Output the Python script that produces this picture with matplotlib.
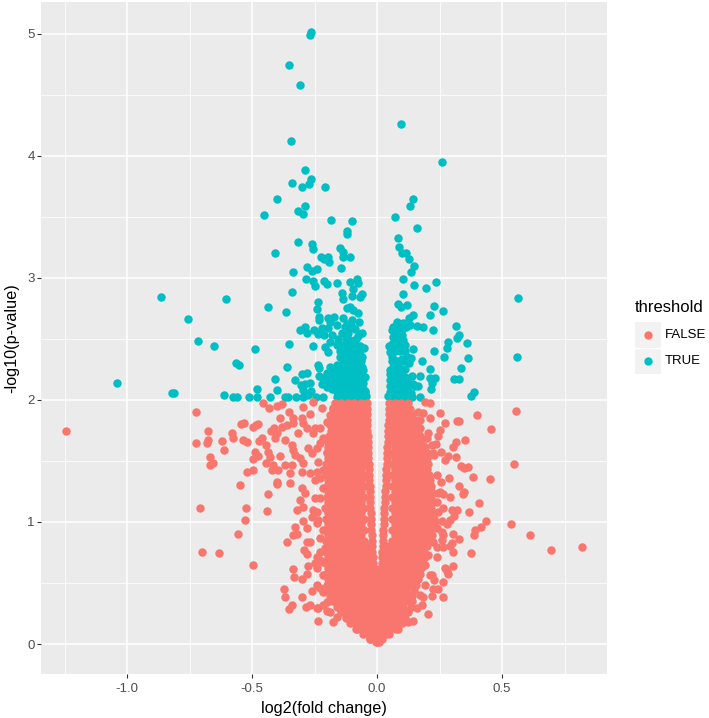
import matplotlib
matplotlib.use("Agg")
import matplotlib.pyplot as plt
from matplotlib.lines import Line2D
from matplotlib.patches import Rectangle

plt.rcParams['font.family'] = ['Liberation Sans', 'DejaVu Sans']
plt.rcParams['axes.unicode_minus'] = False

x_ticks = [-1.0, -0.5, 0.0, 0.5]
x_tick_labels = ['-1.0', '-0.5', '0.0', '0.5']
x_minor = [-1.25, -0.75, -0.25, 0.25, 0.75]
y_ticks = [0, 1, 2, 3, 4, 5]
y_minor = [0.5, 1.5, 2.5, 3.5, 4.5]

# significant points (threshold TRUE), left then right of zero
true_x = [
    -.264, -.268, -.353, -.308, -.343, -.288, -.264, -.272, -.340, -.301, -.207, -.400,
    -.288, -.315, -.296, -.452, -.184, -.101, -.121, -.121, -.317, -.261, -.255, -.407,
    -.148, -.135, -.135, -.108, -.224, -.211, -.195, -.192, -.281, -.261, -.239, -.143,
    -.337, -.284, -.255, -.249, -.212, -.201, -.159, -.108, -.081, -.075, -.340, -.095,
    -.141, -.101, -.061, -.068, -.605, -.135, -.236, -.437, -.241, -.121, -.108, -.095,
    -.075, -.363, -.756, -.231, -.233, -.195, -.172, -.188, -.135, -.101, -.072, -.161,
    -.128, -.308, -.288, -.281, -.251, -.221, -.195, -.235, -.211, -.181, -.115, -.061,
    -.715, -.651, -.489, -.352, -.257, -.208, -.188, -.195, -.161, -.135, -.108, -.115,
    -.068, -.051, -.135, -.108, -.081, -.061, -.565, -.552, -.361, -.236, -.233, -.121,
    -.095, -.188, -.161, -.075, -.300, -.279, -.231, -.201, -.175, -.148, -.115, -.081,
    -.408, -.329, -.215, -.188, -.161, -.135, -.108, -.081, -.061, -.267, -.305, -.288,
    -.221, -.201, -.148, -.121, -.095, -.068, -.479, -.400, -.295, -.265, -.148, -.121,
    -.095, -.068, -.047, -.611, -.575, -.559, -.512, -.480, -.427, -.367, -.355, -.325,
    -.295, -.275, -.244, -.217, -.161, -.135, -.108, -.081, -.055, -1.041, -.865, -.812,
    -.819, -.100, -.120, -.090, -.085, -.075, -.140, -.155, -.125, -.200, -.190,
    .097, .258, .142, .132, .071, .159, .083, .088, .101, .115, .128, .149, .137, .103,
    .149, .195, .235, .105, .564, .085, .095, .120, .229, .265, .213, .145, .129, .079,
    .105, .132, .159, .183, .072, .059, .085, .105, .223, .315, .328, .320, .361, .285,
    .281, .229, .268, .364, .559, .065, .099, .072, .105, .047, .085, .112, .105, .143,
    .052, .059, .099, .119, .135, .127, .179, .085, .065, .052, .079, .213, .336, .308,
    .328, .059, .085, .112, .139, .172, .212, .232, .219, .145, .163, .065, .092, .065,
    .092, .217, .135, .052, .079, .105, .139, .172, .389, .375,
]
true_y = [
    5.015, 4.990, 4.742, 4.575, 4.117, 3.882, 3.808, 3.767, 3.775, 3.743, 3.743, 3.644,
    3.584, 3.549, 3.521, 3.513, 3.472, 3.461, 3.385, 3.358, 3.289, 3.273, 3.232, 3.199,
    3.240, 3.213, 3.172, 3.172, 3.172, 3.150, 3.172, 3.125, 3.085, 3.057, 3.071, 3.076,
    3.049, 2.986, 2.973, 2.934, 2.973, 2.948, 2.959, 2.962, 2.986, 2.959, 2.883, 2.904,
    2.872, 2.850, 2.866, 2.844, 2.828, 2.822, 2.798, 2.760, 2.740, 2.754, 2.762, 2.735,
    2.713, 2.716, 2.661, 2.680, 2.653, 2.667, 2.675, 2.640, 2.667, 2.653, 2.640, 2.612,
    2.599, 2.571, 2.599, 2.549, 2.571, 2.585, 2.590, 2.539, 2.530, 2.530, 2.544, 2.549,
    2.481, 2.438, 2.418, 2.459, 2.438, 2.435, 2.476, 2.394, 2.448, 2.448, 2.489, 2.435,
    2.443, 2.427, 2.367, 2.380, 2.380, 2.347, 2.301, 2.287, 2.271, 2.285, 2.257, 2.298,
    2.312, 2.271, 2.285, 2.257, 2.211, 2.219, 2.194, 2.216, 2.216, 2.230, 2.230, 2.216,
    2.173, 2.164, 2.175, 2.162, 2.162, 2.162, 2.162, 2.162, 2.148, 2.137, 2.121, 2.129,
    2.126, 2.107, 2.107, 2.107, 2.107, 2.102, 2.085, 2.083, 2.080, 2.072, 2.058, 2.053,
    2.053, 2.053, 2.072, 2.042, 2.020, 2.025, 2.020, 2.025, 2.020, 2.020, 2.020, 2.020,
    2.025, 2.039, 2.020, 2.020, 2.020, 2.020, 2.012, 2.020, 2.025, 2.140, 2.839, 2.058,
    2.058, 2.600, 2.620, 2.580, 2.500, 2.520, 2.550, 2.500, 2.500, 2.170, 2.120,
    4.260, 3.945, 3.645, 3.590, 3.494, 3.404, 3.327, 3.254, 3.205, 3.199, 3.156, 3.095,
    3.046, 2.992, 2.937, 2.915, 2.967, 2.863, 2.836, 2.787, 2.760, 2.779, 2.771, 2.724,
    2.694, 2.694, 2.667, 2.640, 2.626, 2.612, 2.604, 2.596, 2.599, 2.571, 2.571, 2.585,
    2.571, 2.601, 2.530, 2.508, 2.465, 2.473, 2.427, 2.399, 2.350, 2.345, 2.350, 2.517,
    2.530, 2.489, 2.489, 2.443, 2.435, 2.448, 2.421, 2.418, 2.394, 2.353, 2.331, 2.353,
    2.345, 2.298, 2.315, 2.285, 2.271, 2.244, 2.244, 2.255, 2.260, 2.170, 2.167, 2.189,
    2.203, 2.189, 2.194, 2.194, 2.175, 2.178, 2.134, 2.129, 2.115, 2.134, 2.140, 2.080,
    2.085, 2.088, 2.058, 2.025, 2.031, 2.025, 2.025, 2.020, 2.066, 2.033,
]

# packed TRUE points just above the cut-off
dense_true_y = [2.60, 2.55, 2.50, 2.46, 2.44, 2.40, 2.35, 2.32, 2.27, 2.25, 2.24, 2.21, 2.19, 2.16, 2.14, 2.11, 2.09, 2.06, 2.03]
dense_true_x = [
    [.065, .09, .115],
    [.07, .095],
    [.08, .09],
    [.06, .09],
    [-.10, -.085, -.125],
    [-.125, -.09, -.07, -.15, .07, .09, .11],
    [-.15, -.12, -.095, -.075],
    [-.135, -.11, -.085, -.065, .06, .08, .105],
    [-.14, -.12, -.10, -.08, -.06],
    [.065, .095, .11],
    [-.17, -.13, -.105, -.09, -.07, -.055],
    [.05, .07, .1],
    [-.17, -.14, -.12, -.10, -.08, -.06, -.05],
    [.05, .075, .095, .12],
    [-.175, -.15, -.125, -.10, -.075, -.055],
    [.05, .08, .105, .125, .15],
    [-.18, -.17, -.135, -.11, -.085, -.055],
    [-.16, -.135, -.11, -.085, -.06, -.05, .05, .075, .1, .12],
    [-.15, -.125, -.10, -.07, -.06, -.045, .045, .065, .09, .12],
]

# scattered non-significant points outside the dense body
false_x = [
    -1.244, -.723, -.677, -.677, -.681, -.723, -.619, -.612, -.669, -.655, -.668, -.579,
    -.577, -.544, -.532, -.497, -.475, -.485, -.537, -.519, -.547, -.519, -.497, -.708,
    -.523, -.528, -.557, -.700, -.632, -.497, -.436, -.439, -.321, -.359, -.329, -.335,
    -.321, -.335, -.332, -.299, -.279, -.372, -.367, -.299, -.259, -.339, -.351, -.285,
    -.268, -.235, -.176, -.235, -.201,
    -.455, -.431, -.399, -.381, -.352, -.389, -.335, -.295, -.255, -.221, -.268, -.301,
    -.295, -.335, -.361, -.381, -.412, -.424, -.401, -.368, -.408, -.461, -.471, -.444,
    -.435, -.488, -.475, -.497, -.388, -.428, -.444, -.415, -.395, -.421, -.368, -.341,
    -.348, -.335, -.328, -.308, -.295, -.341, -.315, -.281, -.248, -.255, -.275, -.261,
    -.228, -.348, -.401, -.401, -.301, -.268, -.241, -.248, -.301, -.288, -.248, -.308,
    -.295, -.255, -.241, -.261, -.295, -.281, -.241, -.268, -.281, -.291, -.281, -.241,
    -.228, -.275, -.248, -.228, -.215, -.241,
    -.228, -.215, -.228, -.208, -.235, -.215, -.228, -.208, -.228, -.215, -.241, -.215,
    -.241, -.215, -.201, -.188, -.161, -.241, -.215, -.228, -.201, -.188, -.175, -.201,
    -.235, -.215,
    .211, .192, .251, .185, .212, .172, .273, .321, .329, .399, .555, .455, .252, .205,
    .243, .352, .315, .303, .235, .219, .257, .283, .272, .316, .228, .335, .348, .363,
    .549, .383, .452, .289, .255, .329, .348, .345, .263, .245, .293, .408, .367, .321,
    .299, .263, .308, .292, .281, .259, .435, .416, .393, .389, .305, .329, .299, .292,
    .304, .263, .265, .259, .375, .535, .613, .695, .819, .303, .272, .279, .285, .239,
    .265, .245, .225, .221, .265, .228, .219, .185, .179, .205, .145,
    .225, .239, .252, .239, .245, .239, .259, .225, .239, .205, .192, .212, .192, .172,
    .159, .125, .232, .219, .199, .172, .165, .145,
]
false_y = [
    1.744, 1.903, 1.744, 1.671, 1.644, 1.644, 1.665, 1.589, 1.534, 1.480, 1.463, 1.725,
    1.685, 1.804, 1.810, 1.780, 1.802, 1.790, 1.671, 1.657, 1.305, 1.411, 1.428, 1.111,
    1.111, 1.013, .901, .751, .745, .644, 1.231, 1.092, 1.100, .835, .958, .890,
    .898, .614, .546, .530, .576, .448, .387, .385, .432, .322, .289, .303,
    .319, .191, .180, .292, .270,
    1.971, 1.935, 1.949, 1.963, 1.897, 1.853, 1.853, 1.943, 1.979, 1.930, 1.881, 1.853,
    1.807, 1.807, 1.793, 1.774, 1.771, 1.744, 1.725, 1.670, 1.684, 1.684, 1.662, 1.629,
    1.575, 1.569, 1.542, 1.515, 1.542, 1.534, 1.479, 1.466, 1.425, 1.425, 1.466, 1.466,
    1.397, 1.589, 1.548, 1.520, 1.479, 1.629, 1.725, 1.766, 1.766, 1.725, 1.602, 1.561,
    1.643, 1.321, 1.329, 1.307, 1.406, 1.397, 1.411, 1.343, 1.275, 1.234, 1.193, 1.179,
    1.124, 1.097, 1.083, 1.043, 1.007, .947, .988, .838, .838, .770, .734, .715,
    .688, .641, .660, .456, .319, .292,
    1.356, 1.275, 1.193, 1.111, 1.015, .933, .865, .783, .756, .674, .619, .565,
    .483, .428, .346, .264, .223, 1.602, 1.684, 1.766, 1.821, 1.875, 1.930, 1.575,
    1.493, 1.425,
    1.971, 1.984, 1.894, 1.889, 1.853, 1.834, 1.812, 1.826, 1.826, 1.872, 1.908, 1.763, 1.752, 1.730,
    1.703, 1.670, 1.654, 1.610, 1.638, 1.629, 1.569, 1.539, 1.507, 1.528, 1.548, 1.457, 1.438, 1.447,
    1.471, 1.365, 1.354, 1.356, 1.324, 1.296, 1.247, 1.228, 1.225, 1.234, 1.201, 1.157, 1.083, 1.094,
    1.097, 1.116, 1.051, 1.015, .980, 1.007, 1.007, .961, .931, .892, .898, .857, .824, .805,
    .756, .791, .892, .851, .748, .980, .890, .772, .791, .641, .625, .598, .570, .712,
    .505, .450, .447, .393, .387, .524, .565, .387, .319, .245, .188,
    1.561, 1.384, 1.247, 1.165, 1.083, .947, .920, .838, .797, .729, .647, .565, .483, .401,
    .292, .183, 1.002, .892, 1.684, 1.766, 1.902, 1.834,
]

# dense body of the volcano, one list of fold changes per -log10(p) level
body_y = [
    1.97, 1.925, 1.88, 1.835, 1.79, 1.745, 1.70, 1.655, 1.61, 1.565, 1.52, 1.475, 1.43, 1.385, 1.34,
    1.295, 1.25, 1.205, 1.16, 1.115, 1.07, 1.025, .98, .935, .89, .845, .80, .755, .71, .665,
    .62, .575, .53, .485, .44, .395, .35, .305, .26, .215, .17, .125, .08, .04, .015,
]
body_x = [
    [-.042, -.066, -.092, -.118, -.144, -.168, .048, .071, .097, .122],
    [-.042, -.053, -.079, -.105, -.131, -.157, -.176, .047, .058, .084, .11, .131],
    [-.041, -.066, -.092, -.118, -.144, -.17, .047, .071, .097, .123, .14],
    [-.04, -.053, -.079, -.105, -.131, -.157, -.183, .046, .058, .084, .11, .136, .15],
    [-.04, -.066, -.092, -.118, -.144, -.17, -.19, .045, .071, .097, .123, .149, .158],
    [-.039, -.053, -.079, -.105, -.131, -.157, -.183, .044, .058, .084, .11, .136, .162],
    [-.038, -.066, -.092, -.118, -.144, -.17, -.192, .043, .071, .097, .123, .149, .172],
    [-.037, -.053, -.079, -.105, -.131, -.157, -.183, -.198, .042, .058, .084, .11, .136, .162, .18],
    [-.036, -.066, -.092, -.118, -.144, -.17, -.196, .041, .071, .097, .123, .149, .175, .19],
    [-.035, -.053, -.079, -.105, -.131, -.157, -.183, -.2, .04, .058, .084, .11, .136, .162, .188, .198],
    [-.035, -.066, -.092, -.118, -.144, -.17, -.196, .039, .071, .097, .123, .149, .175, .201],
    [-.034, -.053, -.079, -.105, -.131, -.157, -.183, -.205, .038, .058, .084, .11, .136, .162, .188, .205],
    [-.033, -.066, -.092, -.118, -.144, -.17, -.196, .037, .071, .097, .123, .149, .175, .201],
    [-.032, -.053, -.079, -.105, -.131, -.157, -.183, -.205, .036, .058, .084, .11, .136, .162, .188, .208],
    [-.031, -.066, -.092, -.118, -.144, -.17, -.196, .035, .071, .097, .123, .149, .175, .201, .212],
    [-.03, -.053, -.079, -.105, -.131, -.157, -.183, -.202, .034, .058, .084, .11, .136, .162, .188, .214],
    [-.029, -.066, -.092, -.118, -.144, -.17, -.196, .032, .071, .097, .123, .149, .175, .201, .215],
    [-.028, -.053, -.079, -.105, -.131, -.157, -.183, -.2, .03, .058, .084, .11, .136, .162, .188, .214],
    [-.028, -.066, -.092, -.118, -.144, -.17, -.196, .03, .071, .097, .123, .149, .175, .201, .218],
    [-.027, -.053, -.079, -.105, -.131, -.157, -.183, -.204, .029, .058, .084, .11, .136, .162, .188, .214],
    [-.026, -.066, -.092, -.118, -.144, -.17, -.196, .028, .071, .097, .123, .149, .175, .201, .222],
    [-.025, -.053, -.079, -.105, -.131, -.157, -.183, -.205, .027, .058, .084, .11, .136, .162, .188, .214, .226],
    [-.024, -.066, -.092, -.118, -.144, -.17, -.196, .026, .071, .097, .123, .149, .175, .201, .224],
    [-.023, -.053, -.079, -.105, -.131, -.157, -.183, -.207, .025, .058, .084, .11, .136, .162, .188, .214],
    [-.022, -.066, -.092, -.118, -.144, -.17, -.196, .024, .071, .097, .123, .149, .175, .201],
    [-.021, -.053, -.079, -.105, -.131, -.157, -.183, -.206, .023, .058, .084, .11, .136, .162, .188, .208],
    [-.02, -.046, -.066, -.092, -.118, -.144, -.17, -.196, .022, .048, .071, .097, .123, .149, .175, .201],
    [-.019, -.04, -.053, -.079, -.105, -.131, -.157, -.183, -.206, .021, .04, .058, .084, .11, .136, .162, .188],
    [-.018, -.04, -.066, -.092, -.118, -.144, -.17, -.196, .02, .045, .071, .097, .123, .149, .175, .19],
    [-.016, -.04, -.053, -.079, -.105, -.131, -.157, -.183, -.205, .018, .04, .058, .084, .11, .136, .162, .182],
    [-.014, -.04, -.066, -.092, -.118, -.144, -.17, -.196, .016, .045, .071, .097, .123, .149, .175],
    [.0, -.027, -.053, -.079, -.105, -.131, -.157, -.183, -.204, .026, .052, .078, .104, .13, .156, .17],
    [-.014, -.04, -.066, -.092, -.118, -.144, -.17, -.196, .013, .039, .065, .091, .117, .143, .162],
    [.0, -.027, -.053, -.079, -.105, -.131, -.157, -.183, -.2, .026, .052, .078, .104, .13, .154],
    [-.014, -.04, -.066, -.092, -.118, -.144, -.17, -.194, .013, .039, .065, .091, .117, .146],
    [.0, -.027, -.053, -.079, -.105, -.131, -.157, -.183, -.19, .026, .052, .078, .104, .13, .14],
    [-.014, -.04, -.066, -.092, -.118, -.144, -.17, -.182, .013, .039, .065, .091, .117, .14],
    [.0, -.027, -.053, -.079, -.105, -.131, -.157, -.16, .026, .052, .078, .104, .135],
    [-.014, -.04, -.066, -.092, -.118, -.144, .013, .039, .065, .091, .112, .125],
    [.0, -.027, -.053, -.079, -.105, -.125, .026, .052, .078, .1, .11],
    [-.014, -.04, -.066, -.092, -.108, .013, .039, .065, .085, .1],
    [.0, -.027, -.053, -.079, -.085, .026, .052, .074, .085],
    [-.014, -.04, -.058, .013, .035, .048],
    [.0, -.027, -.03, .02],
    [-.006, .0, .008],
]
threshold_levels = ['FALSE', 'TRUE']
threshold_colors = ['#F8766D', '#00BFC4']

for row_y, row_x in zip(body_y, body_x):
    false_x = false_x + row_x
    false_y = false_y + [row_y] * len(row_x)
for row_y, row_x in zip(dense_true_y, dense_true_x):
    true_x = true_x + row_x
    true_y = true_y + [row_y] * len(row_x)

W, H = 709, 718
fig = plt.figure(figsize=(W / 100, H / 100), dpi=100)
ax = fig.add_axes([41 / W, 1 - 674 / H, (607 - 41) / W, (674 - 2) / H])
ax.set_facecolor('#EBEBEB')
for s in ax.spines.values():
    s.set_visible(False)

ax.set_xlim(-1.344, 0.92)
ax.set_ylim(-0.2457, 5.258)

ax.set_xticks(x_ticks)
ax.set_xticklabels(x_tick_labels)
ax.set_yticks(y_ticks)
ax.set_xticks(x_minor, minor=True)
ax.set_yticks(y_minor, minor=True)
ax.grid(True, which='major', color='white', linewidth=1.1)
ax.grid(True, which='minor', color='white', linewidth=0.55)
ax.set_axisbelow(True)
ax.tick_params(which='minor', length=0)
ax.tick_params(which='major', length=2.6, width=0.8, color='#333333',
               labelcolor='#4D4D4D', labelsize=9.5)
ax.tick_params(axis='x', which='major', pad=4)
ax.tick_params(axis='y', which='major', pad=2)

ax.scatter(true_x, true_y, s=37, color=threshold_colors[1], linewidths=0)
ax.scatter(false_x, false_y, s=37, color=threshold_colors[0], linewidths=0)

ax.set_xlabel('log2(fold change)', fontsize=11.7, labelpad=4)
ax.set_ylabel('-log10(p-value)', fontsize=11.7, labelpad=6)

# legend drawn by hand to sit the same way as the ggplot guide
fig.text(635 / W, 1 - 308 / H, 'threshold', fontsize=12, va='center', ha='left')
key_tops = [322, 348.5]
for top, label, color in zip(key_tops, threshold_levels, threshold_colors):
    fig.add_artist(Rectangle((635 / W, 1 - (top + 25.5) / H), 25.5 / W, 25.5 / H,
                             transform=fig.transFigure, facecolor='#F2F2F2', edgecolor='none'))
    fig.add_artist(Line2D([647.7 / W], [1 - (top + 12.8) / H], transform=fig.transFigure,
                          marker='o', markersize=6, markeredgewidth=0, color=color))
    fig.text(665 / W, 1 - (top + 13) / H, label, fontsize=9.5, va='center', ha='left')

fig.savefig('out.png', dpi=100)
